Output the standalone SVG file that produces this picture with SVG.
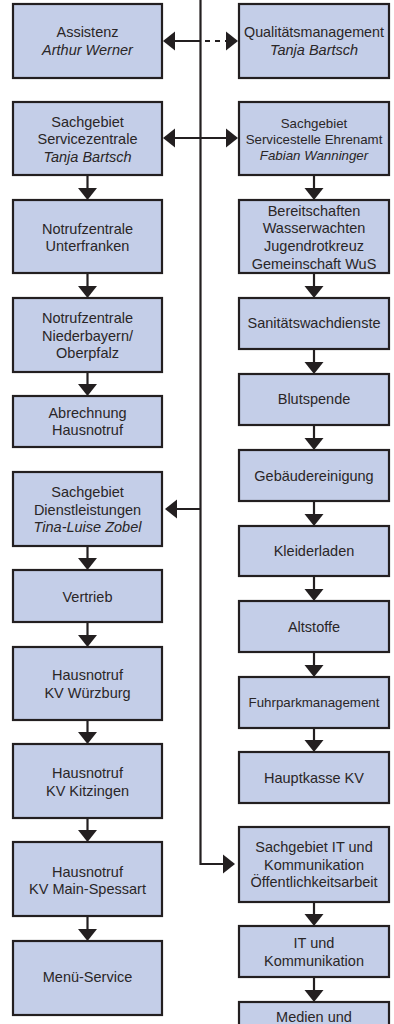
<svg xmlns="http://www.w3.org/2000/svg" width="394" height="1024" viewBox="0 0 394 1024">
<style>
.b{fill:#c4cee8;stroke:#231f20;stroke-width:2.2}
text{font-family:"Liberation Sans",Arial,sans-serif;font-size:14.5px;fill:#2a2627;text-anchor:middle}
.s{font-size:13.3px}
.i{font-style:italic}
.c{fill:none;stroke:#231f20;stroke-width:2.2}
.d{stroke-dasharray:5,5}
</style>
<defs>
<marker id="ah" markerUnits="userSpaceOnUse" markerWidth="13" markerHeight="22" viewBox="0 0 13 22" refX="9" refY="11" orient="auto-start-reverse">
<path d="M0,1.5 L12,11 L0,20.5 z" fill="#231f20"/>
</marker>
</defs>
<g id="connectors">
<path class="c" d="M200.5,0 V864 H232" marker-end="url(#ah)"/>
<path class="c" d="M166,41 H200.5" marker-start="url(#ah)"/>
<path class="c d" d="M205,41 H235" marker-end="url(#ah)"/>
<path class="c" d="M166,138 H235" marker-start="url(#ah)" marker-end="url(#ah)"/>
<path class="c" d="M200.5,509 H168" marker-end="url(#ah)"/>
<path class="c" d="M87.5,175 V197" marker-end="url(#ah)"/>
<path class="c" d="M87.5,273 V295" marker-end="url(#ah)"/>
<path class="c" d="M87.5,372 V393" marker-end="url(#ah)"/>
<path class="c" d="M87.5,546 V567" marker-end="url(#ah)"/>
<path class="c" d="M87.5,622 V644" marker-end="url(#ah)"/>
<path class="c" d="M87.5,720 V741" marker-end="url(#ah)"/>
<path class="c" d="M87.5,818 V839" marker-end="url(#ah)"/>
<path class="c" d="M87.5,916 V938" marker-end="url(#ah)"/>
<path class="c" d="M314,175 V197" marker-end="url(#ah)"/>
<path class="c" d="M314,273 V295" marker-end="url(#ah)"/>
<path class="c" d="M314,349 V371" marker-end="url(#ah)"/>
<path class="c" d="M314,425 V447" marker-end="url(#ah)"/>
<path class="c" d="M314,501 V523" marker-end="url(#ah)"/>
<path class="c" d="M314,576 V598" marker-end="url(#ah)"/>
<path class="c" d="M314,652 V674" marker-end="url(#ah)"/>
<path class="c" d="M314,728 V749" marker-end="url(#ah)"/>
<path class="c" d="M314,902 V923" marker-end="url(#ah)"/>
<path class="c" d="M314,977 V999" marker-end="url(#ah)"/>
</g>
<g id="assistenz"><rect class="b" x="13" y="4" width="149" height="74"/><text x="87.5" y="37.3">Assistenz</text><text class="i" x="87.5" y="55">Arthur Werner</text></g>
<g id="servicezentrale"><rect class="b" x="13" y="102" width="149" height="73"/><text x="87.5" y="127">Sachgebiet</text><text x="87.5" y="144">Servicezentrale</text><text class="i" x="87.5" y="161.5">Tanja Bartsch</text></g>
<g id="nz-unterfranken"><rect class="b" x="13" y="200" width="149" height="73"/><text x="87.5" y="234">Notrufzentrale</text><text x="87.5" y="251">Unterfranken</text></g>
<g id="nz-niederbayern"><rect class="b" x="13" y="298" width="149" height="74"/><text x="87.5" y="323">Notrufzentrale</text><text x="87.5" y="340.5">Niederbayern/</text><text x="87.5" y="358">Oberpfalz</text></g>
<g id="abrechnung"><rect class="b" x="13" y="396" width="149" height="51"/><text x="87.5" y="418">Abrechnung</text><text x="87.5" y="435">Hausnotruf</text></g>
<g id="dienstleistungen"><rect class="b" x="13" y="472" width="149" height="74"/><text x="87.5" y="497">Sachgebiet</text><text x="87.5" y="514.5">Dienstleistungen</text><text class="i" x="87.5" y="532">Tina-Luise Zobel</text></g>
<g id="vertrieb"><rect class="b" x="13" y="570" width="149" height="52"/><text x="87.5" y="601.5">Vertrieb</text></g>
<g id="hn-wuerzburg"><rect class="b" x="13" y="647" width="149" height="73"/><text x="87.5" y="680">Hausnotruf</text><text x="87.5" y="697.5">KV Würzburg</text></g>
<g id="hn-kitzingen"><rect class="b" x="13" y="744" width="149" height="74"/><text x="87.5" y="777.7">Hausnotruf</text><text x="87.5" y="795.5">KV Kitzingen</text></g>
<g id="hn-mainspessart"><rect class="b" x="13" y="842" width="149" height="74"/><text x="87.5" y="876.7">Hausnotruf</text><text x="87.5" y="894.3">KV Main-Spessart</text></g>
<g id="menue"><rect class="b" x="13" y="941" width="149" height="74"/><text x="87.5" y="982.3">Menü-Service</text></g>
<g id="qualitaet"><rect class="b" x="239" y="4" width="150" height="74"/><text x="314" y="37.3" textLength="140" lengthAdjust="spacingAndGlyphs">Qualitätsmanagement</text><text class="i" x="314" y="55">Tanja Bartsch</text></g>
<g id="ehrenamt"><rect class="b" x="239" y="102" width="150" height="73"/><text class="s" x="314" y="128">Sachgebiet</text><text class="s" x="314" y="144">Servicestelle Ehrenamt</text><text class="s i" x="314" y="159.7">Fabian Wanninger</text></g>
<g id="bereitschaften"><rect class="b" x="239" y="200" width="150" height="73"/><text x="314" y="215.5">Bereitschaften</text><text x="314" y="233.2">Wasserwachten</text><text x="314" y="250.9">Jugendrotkreuz</text><text x="314" y="268.6">Gemeinschaft WuS</text></g>
<g id="sanitaet"><rect class="b" x="239" y="298" width="150" height="51"/><text x="314" y="328.3">Sanitätswachdienste</text></g>
<g id="blutspende"><rect class="b" x="239" y="374" width="150" height="51"/><text x="314" y="404.3">Blutspende</text></g>
<g id="gebaeude"><rect class="b" x="239" y="450" width="150" height="51"/><text x="314" y="481">Gebäudereinigung</text></g>
<g id="kleiderladen"><rect class="b" x="239" y="526" width="150" height="50"/><text x="314" y="555.7">Kleiderladen</text></g>
<g id="altstoffe"><rect class="b" x="239" y="601" width="150" height="51"/><text x="314" y="631.7">Altstoffe</text></g>
<g id="fuhrpark"><rect class="b" x="239" y="677" width="150" height="51"/><text class="s" x="314" y="707">Fuhrparkmanagement</text></g>
<g id="hauptkasse"><rect class="b" x="239" y="752" width="150" height="51"/><text x="314" y="782.7">Hauptkasse KV</text></g>
<g id="it-sachgebiet"><rect class="b" x="239" y="827" width="150" height="75"/><text x="314" y="851.7">Sachgebiet IT und</text><text x="314" y="869.5">Kommunikation</text><text x="314" y="887.3">Öffentlichkeitsarbeit</text></g>
<g id="it"><rect class="b" x="239" y="926" width="150" height="51"/><text x="314" y="947.7">IT und</text><text x="314" y="965.7">Kommunikation</text></g>
<g id="medien"><rect class="b" x="239" y="1002" width="150" height="40"/><text x="314" y="1021.7">Medien und</text></g>
</svg>
